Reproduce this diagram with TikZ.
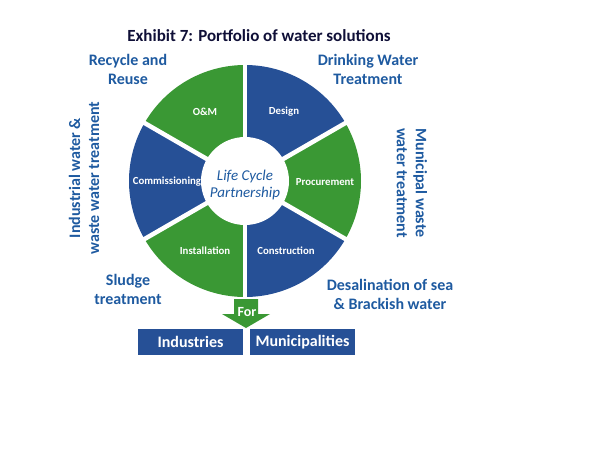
\documentclass[tikz,border=0pt]{standalone}
\usepackage{fontspec}
\setmainfont{Carlito}
\definecolor{segblue}{RGB}{38,80,150}
\definecolor{seggreen}{RGB}{58,152,52}
\definecolor{lblblue}{RGB}{30,90,160}
\definecolor{titlenavy}{RGB}{15,15,55}
\begin{document}
\begin{tikzpicture}[x=1pt,y=-1pt,
  seglabel/.style={text=white,font=\fontsize{10.8}{12}\selectfont\bfseries,inner sep=0pt},
  outlabel/.style={text=lblblue,font=\fontsize{16}{19}\selectfont\bfseries,align=center,inner sep=0pt},
  boxlabel/.style={fill=segblue,text=white,font=\fontsize{16}{18}\selectfont\bfseries,minimum width=105pt,minimum height=26pt,inner sep=0pt}]
\useasboundingbox (0,0) rectangle (600,467);
\coordinate (c) at (245,181);
% wheel segments
\fill[segblue]  (c) -- ++(-90:116) arc[start angle=-90,end angle=-30,radius=116] -- cycle;
\fill[seggreen] (c) -- ++(-30:116) arc[start angle=-30,end angle=30,radius=116] -- cycle;
\fill[segblue]  (c) -- ++(30:116) arc[start angle=30,end angle=90,radius=116] -- cycle;
\fill[seggreen] (c) -- ++(90:116) arc[start angle=90,end angle=150,radius=116] -- cycle;
\fill[segblue]  (c) -- ++(150:116) arc[start angle=150,end angle=210,radius=116] -- cycle;
\fill[seggreen] (c) -- ++(210:116) arc[start angle=210,end angle=270,radius=116] -- cycle;
\foreach \a in {-90,-30,30,90,150,210}
  \draw[white,line width=4.5pt] (c) -- ++(\a:119);
\fill[white] (c) circle[radius=44];
% segment labels
\node[seglabel] (design) at (284,112) {Design};
\node[seglabel] (om) at (205,112) {O\&M};
\node[seglabel] (proc) at (325,182) {Procurement};
\node[seglabel] (comm) at (167,182) {Commissioning};
\node[seglabel] (inst) at (205,251) {Installation};
\node[seglabel] (cons) at (286,251) {Construction};
\node[text=lblblue,font=\fontsize{15}{17}\selectfont\itshape,align=center,inner sep=0pt] (lcp) at (245,185) {Life Cycle\\Partnership};
% outer labels
\node[text=titlenavy,font=\fontsize{17}{19}\selectfont\bfseries,inner sep=0pt] (title) at (259,36) {Exhibit 7: Portfolio of water solutions};
\node[outlabel] (rr) at (128,69) {Recycle and\\Reuse};
\node[outlabel] (dw) at (368,69) {Drinking Water\\Treatment};
\node[outlabel,rotate=90] (iw) at (84,178) {Industrial water \&\\waste water treatment};
\node[outlabel,rotate=-90] (mw) at (412,183) {Municipal waste\\water treatment};
\node[outlabel] (sl) at (128,289) {Sludge\\treatment};
\node[outlabel] (de) at (390,294) {Desalination of sea\\\& Brackish water};
% arrow
\fill[seggreen] (234,299) -- (258,299) -- (258,314) -- (270,314) -- (246,328) -- (222,314) -- (234,314) -- cycle;
\node[text=white,font=\fontsize{14}{16}\selectfont\bfseries,inner sep=0pt] (for) at (247,312) {For};
% boxes
\node[boxlabel] (ind) at (190.5,342) {Industries};
\node[boxlabel] (mun) at (302.5,342) {Municipalities};
\end{tikzpicture}
\end{document}
